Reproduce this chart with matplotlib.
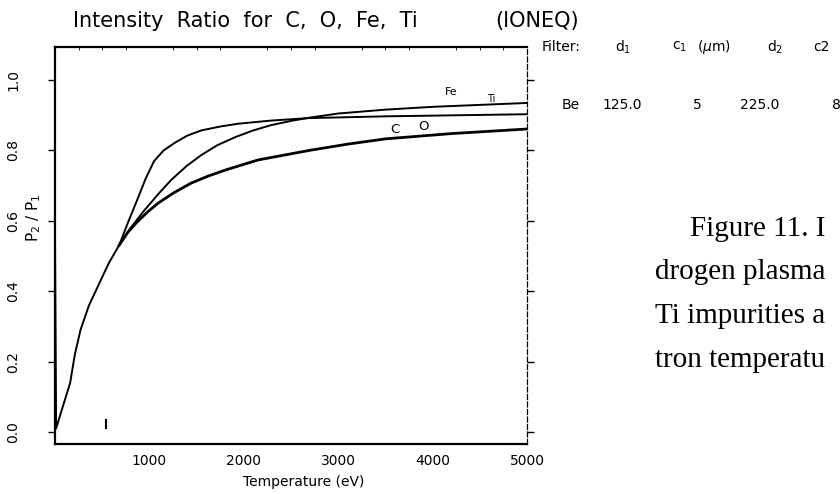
import numpy as np
import matplotlib.pyplot as plt
from matplotlib.ticker import MultipleLocator

# --- Intensity ratio P2/P1 vs electron temperature (eV) ---
temp_fe = [0, 12, 80, 160, 210, 270, 360, 470, 570, 680, 780, 870, 960, 1050, 1150,
           1270, 1400, 1550, 1750, 1940, 2290, 2690, 3500, 5000]
ratio_fe = [0.55, 0.01, 0.07, 0.139, 0.22, 0.29, 0.36, 0.423, 0.48, 0.531, 0.60, 0.659,
            0.72, 0.77, 0.80, 0.822, 0.842, 0.857, 0.868, 0.876, 0.885, 0.892, 0.897, 0.903]

temp_ti = [680, 800, 950, 1090, 1230, 1390, 1550, 1720, 1910, 2100, 2290, 2500, 2690,
           3000, 3500, 4000, 5000]
ratio_ti = [0.531, 0.58, 0.631, 0.675, 0.716, 0.755, 0.787, 0.815, 0.838, 0.857, 0.872,
            0.884, 0.893, 0.905, 0.916, 0.924, 0.935]

temp_co = [680, 770, 870, 980, 1090, 1260, 1440, 1620, 1800, 2150, 2690, 3100, 3500,
           4200, 5000]
ratio_co = [0.531, 0.567, 0.597, 0.625, 0.65, 0.68, 0.707, 0.727, 0.744, 0.773, 0.80,
            0.818, 0.833, 0.848, 0.861]

marker_temp = 540
marker_ratio = [0.012, 0.035]

filter_header = ["Filter:", "d$_1$", "c$_1$", "($\\mu$m)", "d$_2$", "c2"]
filter_row = ["Be", "125.0", "5", "225.0", "8"]

caption = ["Figure 11. I", "drogen plasma", "Ti impurities a", "tron temperatu"]

W, H = 840, 494
fig = plt.figure(figsize=(W / 100, H / 100), dpi=100)
ax = fig.add_axes([55 / W, 50 / H, (527 - 55) / W, (444 - 47) / H])

ax.plot(temp_fe, ratio_fe, color="black", lw=1.4)
ax.plot(temp_ti, ratio_ti, color="black", lw=1.4)
ax.plot(temp_co, ratio_co, color="black", lw=2.0)
ax.plot([marker_temp, marker_temp], marker_ratio, color="black", lw=1.5)

ax.set_xlim(0, 5000)
ax.set_ylim(-0.034, 1.094)
ax.yaxis.set_major_locator(MultipleLocator(0.2))
ax.set_xticks([1000, 2000, 3000, 4000, 5000])
ax.set_xticklabels(["1000", "2000", "3000", "4000", "5000"])
ax.set_yticklabels([f"{v:.1f}" for v in ax.get_yticks()], rotation=90, va="center")
ax.tick_params(axis="x", length=0, labelsize=10, pad=7)
ax.tick_params(axis="y", direction="out", length=5, width=1, labelsize=10,
               right=True, pad=20)
ax.xaxis.set_minor_locator(MultipleLocator(250))
ax.tick_params(axis="x", which="minor", top=True, bottom=False, direction="in", length=2)

for side in ["left", "top", "bottom"]:
    ax.spines[side].set_linewidth(1.6)
ax.spines["right"].set_linewidth(0.9)
ax.spines["right"].set_linestyle((0, (4, 2)))

ax.set_xlabel("Temperature (eV)", fontsize=10)
ax.xaxis.set_label_coords((304 - 55) / 472, -31 / 397)
ax.set_ylabel("P$_2$ / P$_1$", fontsize=11)
ax.yaxis.set_label_coords(-12 / 472, (444 - 218) / 397)

ax.text(4200, 0.965, "Fe", fontsize=8, ha="center", va="center")
ax.text(4620, 0.945, "Ti", fontsize=7, ha="center", va="center")
ax.text(3600, 0.86, "C", fontsize=9.5, ha="center", va="center")
ax.text(3900, 0.868, "O", fontsize=9.5, ha="center", va="center")

fig.text(73 / W, 1 - 21 / H, "Intensity  Ratio  for  C,  O,  Fe,  Ti",
         fontsize=15, va="center", ha="left")
fig.text(495 / W, 1 - 21 / H, "(IONEQ)", fontsize=15, va="center", ha="left")

hx = [542, 615, 672, 697, 767, 813]
for x, s in zip(hx, filter_header):
    fig.text(x / W, 1 - 47 / H, s, fontsize=10, va="center", ha="left")
rx = [562, 602, 693, 740, 832]
for x, s in zip(rx, filter_row):
    fig.text(x / W, 1 - 105 / H, s, fontsize=10, va="center", ha="left")

cy = [229, 272, 316, 360]
cx = [690, 655, 655, 655]
for x, y, s in zip(cx, cy, caption):
    fig.text(x / W, 1 - y / H, s, fontsize=21, family="Liberation Serif",
             va="center", ha="left")

fig.savefig("out.png", dpi=100)
